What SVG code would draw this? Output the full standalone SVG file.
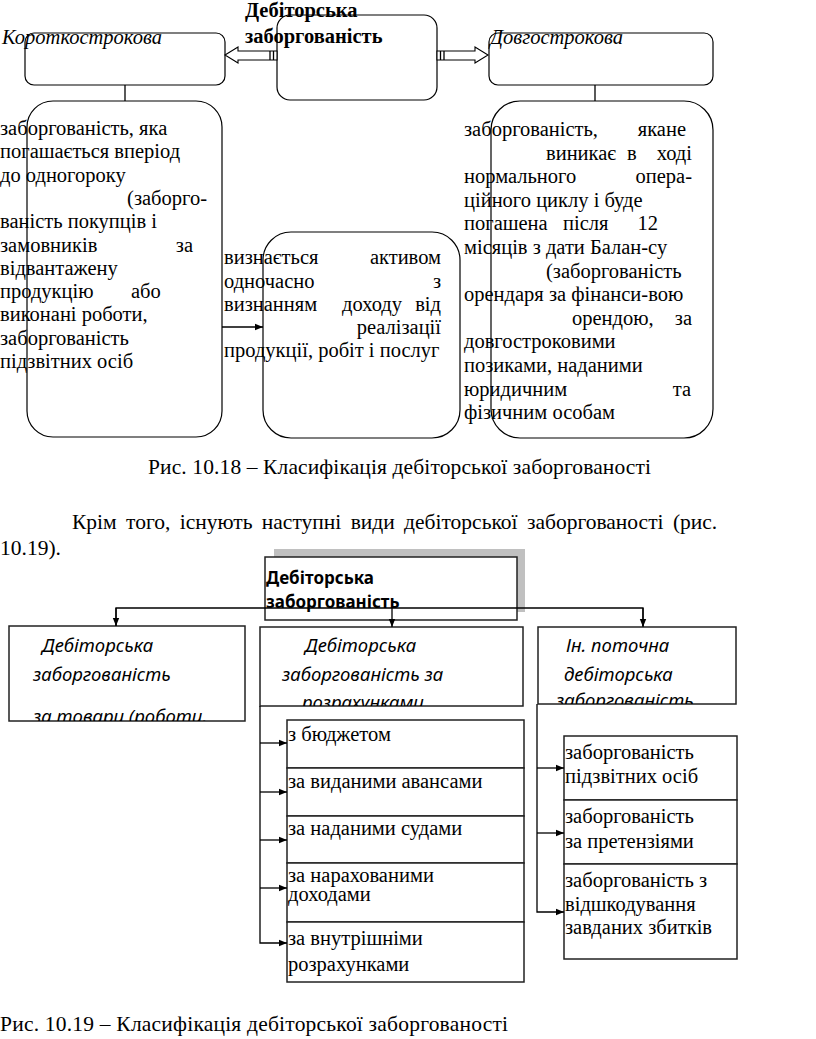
<svg xmlns="http://www.w3.org/2000/svg" width="816" height="1039" viewBox="0 0 816 1039">
<style>
.s{font-family:"Liberation Serif","Times New Roman",serif;font-size:20.5px;fill:#000}
.i{font-style:italic}
.b{font-weight:bold}
.cap{font-size:21.5px}
.n{font-family:"Noto Sans","Open Sans",sans-serif;font-style:italic;font-size:18.5px;fill:#000}
.nb{font-family:"Noto Sans","Open Sans",sans-serif;font-weight:bold;font-size:17px;fill:#000}
.box{fill:none;stroke:#000;stroke-width:1.2}
.box2{fill:#fff;stroke:#222;stroke-width:1.5}
.ln{fill:none;stroke:#000;stroke-width:1.3}
.blk{fill:#fff;stroke:#000;stroke-width:1.1}
.end{text-anchor:end}
</style>
<defs>
<marker id="ah" viewBox="0 0 10 10" refX="10" refY="5" markerWidth="8" markerHeight="8" markerUnits="userSpaceOnUse" orient="auto"><path d="M0,1 L10,5 L0,9z" fill="#000"/></marker>
<clipPath id="c1"><rect x="9" y="626" width="236" height="95"/></clipPath>
<clipPath id="c2"><rect x="260" y="627" width="263" height="79"/></clipPath>
<clipPath id="c3"><rect x="538" y="627" width="198" height="77"/></clipPath>
</defs>
<rect width="816" height="1039" fill="#fff"/>

<!-- Diagram 1 -->
<g id="n-short">
<rect class="box" x="25" y="33" width="200" height="52" rx="9"/>
<text class="s i" x="2" y="44">Короткострокова</text>
</g>
<g id="n-main">
<text class="s b" x="245" y="17">Дебіторська</text>
<text class="s b" x="245" y="43">заборгованість</text>
<rect class="box" x="277" y="15" width="160" height="85" rx="13"/>
</g>
<g id="n-long">
<rect class="box" x="489" y="33" width="224" height="52" rx="9"/>
<text class="s i" x="490" y="44">Довгострокова</text>
</g>
<g id="n-short-desc">
<rect class="box" x="27" y="101" width="195" height="336" rx="26"/>
<text class="s" x="0" y="135">заборгованість, яка</text>
<text class="s" x="0" y="158.3">погашається вперіод</text>
<text class="s" x="0" y="181.6">до одногороку</text>
<text class="s end" x="207" y="204.9">(заборго-</text>
<text class="s" x="0" y="228.2">ваність покупців і</text>
<text class="s" x="0" y="251.5">замовників</text>
<text class="s end" x="193" y="251.5">за</text>
<text class="s" x="0" y="274.8">відвантажену</text>
<text class="s" x="0" y="298.1">продукцію</text>
<text class="s" x="131" y="298.1">або</text>
<text class="s" x="0" y="321.4">виконані  роботи,</text>
<text class="s" x="0" y="344.7">заборгованість</text>
<text class="s" x="0" y="368">підзвітних осіб</text>
</g>
<g id="n-recog">
<rect class="box" x="263" y="232" width="197" height="206" rx="28"/>
<text class="s" x="224" y="264">визнається</text>
<text class="s end" x="441" y="264">активом</text>
<text class="s" x="224" y="288">одночасно</text>
<text class="s end" x="441" y="288">з</text>
<text class="s" x="224" y="311">визнанням</text>
<text class="s" x="342" y="311">доходу</text>
<text class="s end" x="441" y="311">від</text>
<text class="s end" x="441" y="334">реалізації</text>
<text class="s" x="224" y="357">продукції, робіт і послуг</text>
</g>
<g id="n-long-desc">
<rect class="box" x="491" y="101" width="222" height="337" rx="29"/>
<text class="s" x="464" y="136">заборгованість,</text>
<text class="s end" x="686" y="136">якане</text>
<text class="s" x="546" y="159.6">виникає</text>
<text class="s" x="627" y="159.6">в</text>
<text class="s end" x="692" y="159.6">ході</text>
<text class="s" x="464" y="183.2">нормального</text>
<text class="s end" x="692" y="183.2">опера-</text>
<text class="s" x="464" y="206.8">ційного циклу і буде</text>
<text class="s" x="464" y="230.4">погашена</text>
<text class="s" x="563" y="230.4">після</text>
<text class="s end" x="658" y="230.4">12</text>
<text class="s" x="464" y="254">місяців з дати Балан-су</text>
<text class="s" x="546" y="277.6">(заборгованість</text>
<text class="s" x="464" y="301.2">орендаря за фінанси-вою</text>
<text class="s" x="572" y="324.8">орендою,</text>
<text class="s end" x="692" y="324.8">за</text>
<text class="s" x="464" y="348.4">довгостроковими</text>
<text class="s" x="464" y="372">позиками,  наданими</text>
<text class="s" x="464" y="395.6">юридичним</text>
<text class="s end" x="691" y="395.6">та</text>
<text class="s" x="464" y="419.2">фізичним особам</text>
</g>
<g id="connectors-1">
<line class="ln" x1="125" y1="85" x2="125" y2="101"/>
<line class="ln" x1="595" y1="85" x2="595" y2="101"/>
<line class="ln" x1="222" y1="327" x2="263" y2="327" marker-end="url(#ah)"/>
<polygon class="blk" points="225,55 238,47 238,51 277,51 277,60 238,60 238,63"/>
<line class="ln" x1="270" y1="51" x2="270" y2="60" stroke-width="1"/>
<line class="ln" x1="273.5" y1="51" x2="273.5" y2="60" stroke-width="1"/>
<polygon class="blk" points="437,51 475,51 475,47 488,55 475,63 475,60 437,60"/>
<line class="ln" x1="440.5" y1="51" x2="440.5" y2="60" stroke-width="1"/>
<line class="ln" x1="444" y1="51" x2="444" y2="60" stroke-width="1"/>
</g>

<text class="s cap" x="148" y="474" textLength="503">Рис. 10.18 – Класифікація дебіторської заборгованості</text>
<text class="s cap" x="72" y="529" word-spacing="4">Крім того, існують наступні види дебіторської заборгованості (рис.</text>
<text class="s cap" x="0" y="555">10.19).</text>

<!-- Diagram 2 -->
<g id="n-top">
<rect x="274" y="549" width="251" height="63" fill="#c0c0c0"/>
<rect class="box2" x="265" y="557" width="252" height="63"/>
<text class="nb" x="266" y="584">Дебіторська</text>
<text class="nb" x="266" y="608">заборгованість</text>
</g>
<g id="n-goods">
<rect class="box2" x="9" y="626" width="236" height="95"/>
<text class="n" x="42" y="652">Дебіторська</text>
<text class="n" x="33" y="681">заборгованість</text>
<text class="n" x="33" y="723" clip-path="url(#c1)">за товари (роботи,</text>
</g>
<g id="n-calc">
<rect class="box2" x="260" y="627" width="263" height="79"/>
<text class="n" x="305" y="652">Дебіторська</text>
<text class="n" x="282" y="681">заборгованість за</text>
<text class="n" x="302" y="709" clip-path="url(#c2)">розрахунками</text>
</g>
<g id="n-other">
<rect class="box2" x="538" y="627" width="198" height="77"/>
<text class="n" x="566" y="652">Ін. поточна</text>
<text class="n" x="564" y="681">дебіторська</text>
<text class="n" x="556" y="707" clip-path="url(#c3)">заборгованість</text>
</g>
<g id="n-budget">
<rect class="box2" x="287" y="720" width="237" height="48"/>
<text class="s" x="288" y="741">з бюджетом</text>
</g>
<g id="n-advances">
<rect class="box2" x="287" y="768" width="237" height="48"/>
<text class="s" x="288" y="788">за виданими авансами</text>
</g>
<g id="n-loans">
<rect class="box2" x="287" y="816" width="237" height="47"/>
<text class="s" x="288" y="835">за наданими судами</text>
</g>
<g id="n-income">
<rect class="box2" x="287" y="863" width="237" height="59"/>
<text class="s" x="288" y="882">за нарахованими</text>
<text class="s" x="288" y="901">доходами</text>
</g>
<g id="n-internal">
<rect class="box2" x="287" y="922" width="237" height="60"/>
<text class="s" x="288" y="945">за внутрішніми</text>
<text class="s" x="288" y="971">розрахунками</text>
</g>
<g id="n-accountable">
<rect class="box2" x="564" y="736" width="173" height="64"/>
<text class="s" x="565" y="759">заборгованість</text>
<text class="s" x="565" y="783">підзвітних осіб</text>
</g>
<g id="n-claims">
<rect class="box2" x="564" y="800" width="173" height="64"/>
<text class="s" x="565" y="823">заборгованість</text>
<text class="s" x="565" y="848">за претензіями</text>
</g>
<g id="n-damages">
<rect class="box2" x="564" y="864" width="173" height="95"/>
<text class="s" x="565" y="887">заборгованість з</text>
<text class="s" x="565" y="911">відшкодування</text>
<text class="s" x="565" y="934">завданих збитків</text>
</g>
<g id="connectors-2">
<polyline class="ln" points="116,626 116,608 643,608 643,626"/>
<line class="ln" x1="116" y1="608" x2="116" y2="626" marker-end="url(#ah)"/>
<line class="ln" x1="392" y1="608" x2="392" y2="627" marker-end="url(#ah)"/>
<line class="ln" x1="643" y1="608" x2="643" y2="627" marker-end="url(#ah)"/>
<polyline class="ln" points="260,706 260,943 287,943" marker-end="url(#ah)"/>
<line class="ln" x1="260" y1="743" x2="287" y2="743" marker-end="url(#ah)"/>
<line class="ln" x1="260" y1="792" x2="287" y2="792" marker-end="url(#ah)"/>
<line class="ln" x1="260" y1="840" x2="287" y2="840" marker-end="url(#ah)"/>
<line class="ln" x1="260" y1="888" x2="287" y2="888" marker-end="url(#ah)"/>
<polyline class="ln" points="537,704 537,912 564,912" marker-end="url(#ah)"/>
<line class="ln" x1="537" y1="768" x2="564" y2="768" marker-end="url(#ah)"/>
<line class="ln" x1="537" y1="833" x2="564" y2="833" marker-end="url(#ah)"/>
</g>

<text class="s cap" x="0" y="1031" textLength="508">Рис. 10.19 – Класифікація дебіторської заборгованості</text>
</svg>
